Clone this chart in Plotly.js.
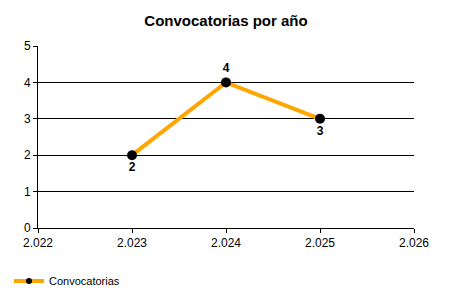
<!DOCTYPE html>
<html>
<head>
<meta charset="utf-8">
<script src="https://cdn.plot.ly/plotly-3.0.1.min.js"></script>
<style>html,body{margin:0;padding:0;background:#fff;}#chart{width:450px;height:300px;}
#chart .legend .traces{opacity:1 !important;}</style>
</head>
<body>
<div id="chart"></div>
<script>
const years = [2023, 2024, 2025];
const counts = [2, 4, 3];
const labelPositions = ['bottom center', 'top center', 'bottom center'];
const seriesName = 'Convocatorias';
const chartTitle = 'Convocatorias por año';

const trace = {
  x: years,
  y: counts,
  type: 'scatter',
  mode: 'lines+markers+text',
  name: seriesName,
  showlegend: false,
  text: counts.map(String),
  textposition: labelPositions,
  textfont: {family: 'Liberation Sans, Arial, sans-serif', size: 12, color: '#000', weight: 'bold'},
  line: {color: '#FFA500', width: 4},
  marker: {color: '#000', size: 10},
  cliponaxis: false
};

const legendTrace = {
  x: years,
  y: counts,
  type: 'scatter',
  mode: 'lines+markers',
  name: seriesName,
  visible: 'legendonly',
  line: {color: '#FFA500', width: 4},
  marker: {color: '#000', size: 6}
};

const layout = {
  width: 450, height: 300,
  margin: {l: 38, r: 36, t: 46, b: 72},
  paper_bgcolor: '#fff', plot_bgcolor: '#fff',
  separators: ',.',
  font: {family: 'Liberation Sans, Arial, sans-serif', size: 12, color: '#000'},
  title: {text: '<b>' + chartTitle + '</b>', x: 0.5, xref: 'paper', y: 0.95, yref: 'container', font: {size: 15, color: '#000'}},
  xaxis: {
    range: [2022, 2026], dtick: 1, tick0: 2022, tickformat: ',d',
    showgrid: false, zeroline: false,
    showline: true, linecolor: '#000', linewidth: 1,
    ticks: 'outside', ticklen: 4, tickcolor: '#000',
    tickfont: {size: 12}, fixedrange: true
  },
  yaxis: {
    range: [0, 5], dtick: 1,
    showgrid: true, gridcolor: '#000', gridwidth: 1,
    zeroline: false,
    showline: true, linecolor: '#000', linewidth: 1,
    ticks: 'outside', ticklen: 4, tickcolor: '#000',
    tickfont: {size: 12}, fixedrange: true
  },
  showlegend: true,
  legend: {
    orientation: 'h', xref: 'container', yref: 'container',
    x: 0.02, y: 0.015, xanchor: 'left', yanchor: 'bottom',
    font: {size: 11}, itemwidth: 30
  }
};

Plotly.newPlot('chart', [trace, legendTrace], layout, {displayModeBar: false, staticPlot: true});
</script>
</body>
</html>
